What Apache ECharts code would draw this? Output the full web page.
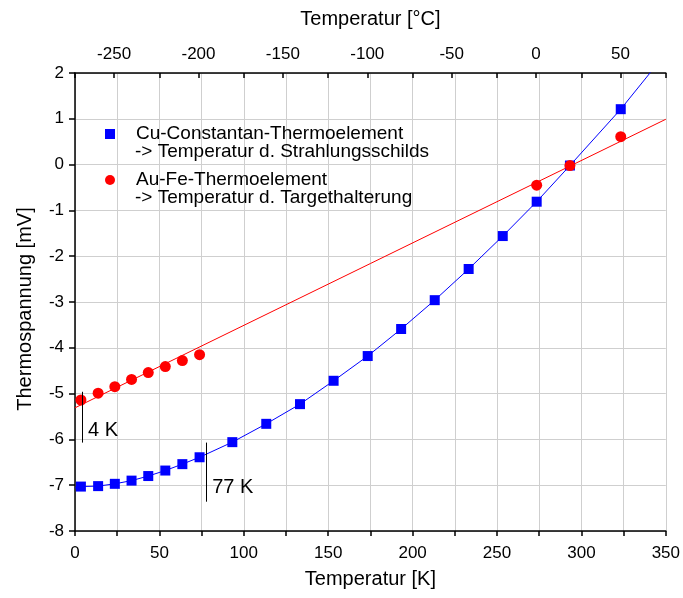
<!DOCTYPE html>
<html>
<head>
<meta charset="utf-8">
<script src="https://cdn.jsdelivr.net/npm/echarts@6/dist/echarts.min.js"></script>
<style>
html,body{margin:0;padding:0;background:#fff;}
#chart{width:683px;height:598px;}
</style>
</head>
<body>
<div id="chart"></div>
<script>
// ---- data ----
const cuTemps = [3.5, 13.7, 23.6, 33.5, 43.4, 53.5, 63.6, 73.8, 93.2, 113.3, 133.3, 153.2, 173.4, 193.2, 213.1, 233.2, 253.4, 273.5, 293.2, 323.3];
const cuVolts = [-7.03, -7.02, -6.97, -6.90, -6.80, -6.68, -6.54, -6.39, -6.06, -5.66, -5.23, -4.72, -4.18, -3.59, -2.96, -2.28, -1.56, -0.81, -0.02, 1.21];
const cuFitStart = [0, -7.06];
const cuFitEnd = [345, 2.2];

const auTemps = [3.5, 13.7, 23.6, 33.5, 43.4, 53.5, 63.6, 73.8, 273.5, 293.2, 323.3];
const auVolts = [-5.14, -4.99, -4.85, -4.69, -4.54, -4.41, -4.28, -4.15, -0.45, -0.02, 0.61];
const auFit = [[0, -5.31], [350, 0.99]];

const kelvinTicks = [0, 350, 25];          // min, max, step
const voltTicks = [-8, 2, 1];
const celsiusLabels = [-250, -200, -150, -100, -50, 0, 50];
const celsiusExtraTicks = [-273.15, -223.15, -173.15, -123.15, -73.15, -23.15, 26.85, 76.85];
const K0 = 273.15;

const seriesNames = ['Cu-Constantan-Thermoelement', 'Au-Fe-Thermoelement'];
const seriesSubtitles = ['-> Temperatur d. Strahlungsschilds', '-> Temperatur d. Targethalterung'];

const annotations = [
  {label: '4 K', x: 4.2, yTop: -4.96, yBottom: -6.07, labelY: -5.8},
  {label: '77 K', x: 77.7, yTop: -6.07, yBottom: -7.36, labelY: -7.05}
];

// ---- chart ----
const FONT = '"Liberation Sans", Arial, sans-serif';
const chart = echarts.init(document.getElementById('chart'), null, {renderer: 'canvas'});

const cuPoints = cuTemps.map((t, i) => [t, cuVolts[i]]);
const auPoints = auTemps.map((t, i) => [t, auVolts[i]]);
const cuFit = [cuFitStart].concat(cuPoints, [cuFitEnd]);

const gridCol = '#cfcfcf';
const axisCol = '#000';

const option = {
  animation: false,
  backgroundColor: '#fff',
  textStyle: {fontFamily: FONT},
  grid: {left: 75, right: 15, top: 73, bottom: 67, containLabel: false},
  legend: {
    orient: 'vertical',
    left: 100, top: 118,
    itemWidth: 10, itemHeight: 10,
    itemGap: 24,
    data: [
      {name: seriesNames[0], icon: 'rect'},
      {name: seriesNames[1], icon: 'circle'}
    ],
    textStyle: {fontFamily: FONT, fontSize: 19, color: '#000', lineHeight: 22, padding: [0, 0, 0, 16]},
    selectedMode: false
  },
  xAxis: [
    {
      type: 'value', position: 'bottom',
      min: kelvinTicks[0], max: kelvinTicks[1], interval: kelvinTicks[2],
      name: 'Temperatur [K]', nameLocation: 'middle', nameGap: 38,
      nameTextStyle: {fontFamily: FONT, fontSize: 20, color: '#000'},
      axisLine: {show: true, onZero: false, lineStyle: {color: axisCol, width: 1.5}},
      axisTick: {show: true, inside: false, length: 5, lineStyle: {color: axisCol, width: 1.5}},
      axisLabel: {fontFamily: FONT, fontSize: 17, color: '#000', margin: 14,
        formatter: v => (v % 50 === 0 ? String(v) : '')},
      splitLine: {show: true, lineStyle: {color: gridCol, width: 1}}
    },
    {
      type: 'value', position: 'top',
      min: kelvinTicks[0] - K0, max: kelvinTicks[1] - K0,
      name: 'Temperatur [°C]', nameLocation: 'middle', nameGap: 44,
      nameTextStyle: {fontFamily: FONT, fontSize: 20, color: '#000'},
      axisLine: {show: true, onZero: false, lineStyle: {color: axisCol, width: 1.5}},
      axisTick: {show: true, inside: true, length: 5, lineStyle: {color: axisCol, width: 1.5},
        customValues: celsiusLabels.concat(celsiusExtraTicks)},
      axisLabel: {fontFamily: FONT, fontSize: 17, color: '#000', margin: 10,
        customValues: celsiusLabels},
      splitLine: {show: false}
    }
  ],
  yAxis: {
    type: 'value',
    min: voltTicks[0], max: voltTicks[1], interval: voltTicks[2],
    name: 'Thermospannung [mV]', nameLocation: 'middle', nameGap: 40,
    nameTextStyle: {fontFamily: FONT, fontSize: 20, color: '#000', padding: [0, 14, 0, 0]},
    axisLine: {show: true, onZero: false, lineStyle: {color: axisCol, width: 1.5}},
    axisTick: {show: true, inside: false, length: 6, lineStyle: {color: axisCol, width: 1.5}},
    axisLabel: {fontFamily: FONT, fontSize: 17, color: '#000', margin: 11},
    splitLine: {show: true, lineStyle: {color: gridCol, width: 1}}
  },
  series: [
    {
      type: 'line', name: 'cuFit', xAxisIndex: 0, data: cuFit,
      showSymbol: false, symbol: 'none', smooth: false,
      lineStyle: {color: '#0000ff', width: 1}, silent: true, z: 2, clip: true,
      markLine: {
        silent: true, symbol: ['none', 'none'], label: {show: false},
        lineStyle: {color: '#000', width: 1, type: 'solid'},
        data: annotations.map(a => [{coord: [a.x, a.yTop]}, {coord: [a.x, a.yBottom]}])
      }
    },
    {
      type: 'line', name: 'auFit', xAxisIndex: 0, data: auFit,
      showSymbol: false, symbol: 'none',
      lineStyle: {color: '#ff0000', width: 1}, silent: true, z: 2, clip: true
    },
    {
      type: 'scatter', name: seriesNames[0], xAxisIndex: 0, data: cuPoints,
      symbol: 'rect', symbolSize: 10, itemStyle: {color: '#0000ff', opacity: 1}, z: 3
    },
    {
      type: 'scatter', name: seriesNames[1], xAxisIndex: 0, data: auPoints,
      symbol: 'circle', symbolSize: 11, itemStyle: {color: '#ff0000', opacity: 1}, z: 4
    }
  ]
};
chart.setOption(option);

// texts placed from data positions
const graphics = [];
annotations.forEach(a => {
  const p = chart.convertToPixel({xAxisIndex: 0, yAxisIndex: 0}, [a.x, a.labelY]);
  graphics.push({type: 'text', x: p[0] + 6, y: p[1],
    style: {text: a.label, font: '20px ' + FONT, fill: '#000', textVerticalAlign: 'middle', textAlign: 'left'}});
});
seriesSubtitles.forEach((s, i) => {
  graphics.push({type: 'text', x: 135, y: 152 + i * 46,
    style: {text: s, font: '19px ' + FONT, fill: '#000', textVerticalAlign: 'middle', textAlign: 'left'}});
});
chart.setOption({graphic: graphics});
</script>
</body>
</html>
